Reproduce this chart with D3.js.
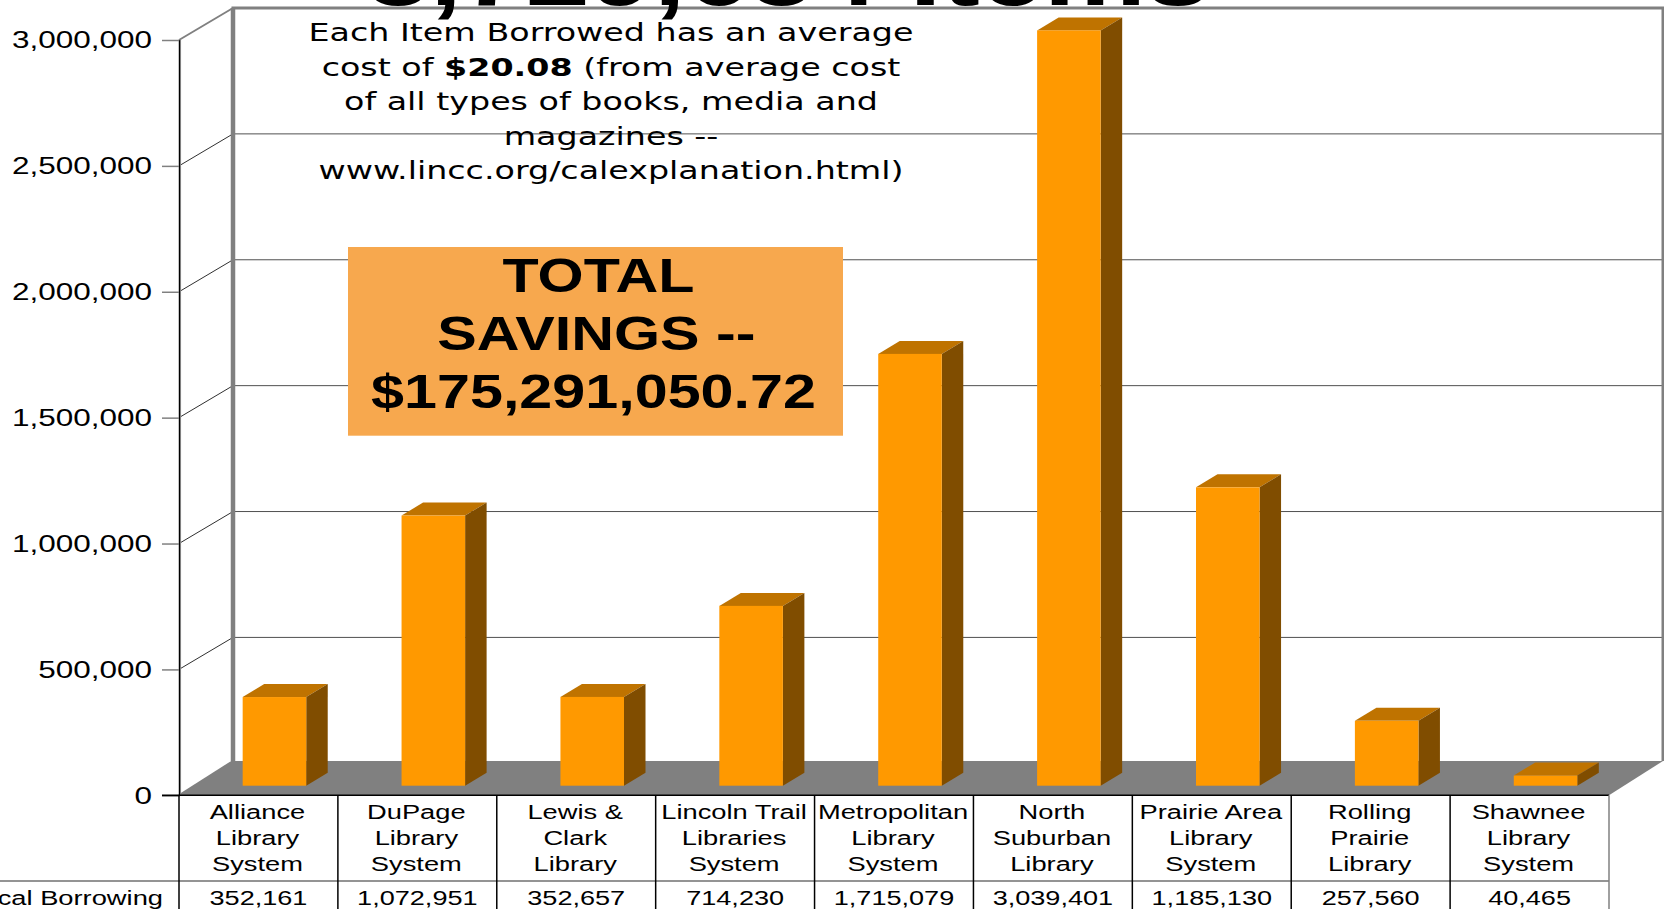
<!DOCTYPE html>
<html>
<head>
<meta charset="utf-8">
<script src="https://cdn.jsdelivr.net/npm/d3@7"></script>
<style>
  html, body { margin: 0; padding: 0; background: #fff; overflow: hidden; }
  text { font-family: "Liberation Sans", Arial, sans-serif; fill: #000; }
</style>
</head>
<body>
<div id="viz"></div>
<script>
// data
const categories = [
  'Alliance Library System',
  'DuPage Library System',
  'Lewis & Clark Library',
  'Lincoln Trail Libraries System',
  'Metropolitan Library System',
  'North Suburban Library',
  'Prairie Area Library System',
  'Rolling Prairie Library',
  'Shawnee Library System'
];
const categoryLines = [
  ['Alliance', 'Library', 'System'],
  ['DuPage', 'Library', 'System'],
  ['Lewis &', 'Clark', 'Library'],
  ['Lincoln Trail', 'Libraries', 'System'],
  ['Metropolitan', 'Library', 'System'],
  ['North', 'Suburban', 'Library'],
  ['Prairie Area', 'Library', 'System'],
  ['Rolling', 'Prairie', 'Library'],
  ['Shawnee', 'Library', 'System']
];
const borrowing = [352161, 1072951, 352657, 714230, 1715079, 3039401, 1185130, 257560, 40465];
const tickValues = [0, 500000, 1000000, 1500000, 2000000, 2500000, 3000000];
const rowLabel = 'Local Borrowing';
const titleText = '8,729,634 Items';
const noteLines = [
  [['Each Item Borrowed has an average', false]],
  [['cost of ', false], ['$20.08', true], [' (from average cost', false]],
  [['of all types of books, media and', false]],
  [['magazines --', false]],
  [['www.lincc.org/calexplanation.html)', false]]
];
const totalLines = ['TOTAL', 'SAVINGS --', '$175,291,050.72'];

// layout
const left = 179, right = 1609, y0 = 795.3, y1 = 40;
const depthX = 54, depthY = -32;
const floorBack = 761;
const stretch = 1.3;

const svg = d3.select('#viz').append('svg')
  .attr('width', 1664).attr('height', 909)
  .style('display', 'block');

const x = d3.scaleBand().domain(categories).range([left, right])
  .paddingInner(0.6).paddingOuter(0.3);
const y = d3.scaleLinear().domain([0, 3000000]).range([y0, y1]).clamp(true);
const step = x.step();

// text that is wider than the font, the original was squeezed that way
function wideText(g, str, px, py, size, sx, anchor, family, weight) {
  return g.append('text')
    .attr('transform', `translate(${px},${py}) scale(${sx},1)`)
    .attr('text-anchor', anchor || 'middle')
    .style('font-family', family || null)
    .style('font-weight', weight || null)
    .style('font-size', size + 'px')
    .text(str);
}

// walls
const walls = svg.append('g');
walls.selectAll('line.grid').data(tickValues.slice(1)).enter().append('line')
  .attr('x1', left + depthX).attr('x2', right + depthX)
  .attr('y1', d => y(d) + depthY).attr('y2', d => y(d) + depthY)
  .attr('stroke', '#505050').attr('stroke-width', 1);
walls.selectAll('line.diag').data(tickValues.slice(1, -1)).enter().append('line')
  .attr('x1', left).attr('x2', left + depthX)
  .attr('y1', d => y(d)).attr('y2', d => y(d) + depthY)
  .attr('stroke', '#303030').attr('stroke-width', 1);

// floor
walls.append('polygon')
  .attr('points', [[left, y0], [left + depthX, floorBack], [right + depthX, floorBack], [right, y0]].join(' '))
  .attr('fill', '#808080');

// back wall frame
walls.append('path')
  .attr('d', `M${left + depthX},${floorBack}V${y1 + depthY}H${right + depthX}V${floorBack}`)
  .attr('fill', 'none').attr('stroke', '#808080').attr('stroke-width', 3);
walls.append('line')
  .attr('x1', left + depthX).attr('x2', left + depthX)
  .attr('y1', y1 + depthY).attr('y2', floorBack)
  .attr('stroke', '#808080').attr('stroke-width', 4.5);
walls.append('line')
  .attr('x1', left).attr('y1', y1).attr('x2', left + depthX).attr('y2', y1 + depthY)
  .attr('stroke', '#808080').attr('stroke-width', 2);
walls.append('line')
  .attr('x1', left).attr('y1', y0).attr('x2', left + depthX).attr('y2', floorBack)
  .attr('stroke', '#808080').attr('stroke-width', 2);

// title, cut off by the top of the page
wideText(svg.append('g'), titleText, 366, 5, 92, 1.25, 'start', null, 'bold');

// bars
const barDx = 16, barDy = -9.6, sideDx = 21.5, sideDy = -13;
const bars = svg.append('g').selectAll('g').data(categories).enter().append('g');
const bx = d => x(d) + barDx;
const bw = x.bandwidth();
const topY = (d, i) => y(borrowing[i]) + barDy;
const baseY = y0 + barDy;

bars.append('polygon').attr('fill', '#BF7300').attr('points', (d, i) => [
  [bx(d), topY(d, i)], [bx(d) + sideDx, topY(d, i) + sideDy],
  [bx(d) + bw + sideDx, topY(d, i) + sideDy], [bx(d) + bw, topY(d, i)]
].join(' '));
bars.append('polygon').attr('fill', '#804D00').attr('points', (d, i) => [
  [bx(d) + bw, topY(d, i)], [bx(d) + bw + sideDx, topY(d, i) + sideDy],
  [bx(d) + bw + sideDx, baseY + sideDy], [bx(d) + bw, baseY]
].join(' '));
bars.append('rect').attr('fill', '#FF9900')
  .attr('x', bx).attr('y', topY)
  .attr('width', bw).attr('height', (d, i) => baseY - topY(d, i));

// y axis
svg.append('line').attr('x1', left + 0.8).attr('x2', left + 0.8).attr('y1', y1).attr('y2', y0)
  .attr('stroke', '#808080').attr('stroke-width', 2.5);
const axis = svg.append('g').attr('transform', `translate(${left},0)`)
  .call(d3.axisLeft(y).tickValues(tickValues).tickFormat(d3.format(',')).tickSize(17).tickPadding(10));
axis.select('.domain').attr('stroke', '#000').attr('stroke-width', 1);
axis.selectAll('.tick line').attr('stroke', '#808080').attr('stroke-width', 1.5);
axis.selectAll('.tick text')
  .attr('x', -27 / 1.285).attr('dy', null).attr('y', 7.7)
  .attr('transform', 'scale(1.285,1)')
  .style('font-family', '"Liberation Sans"')
  .style('font-size', '24.5px');

// data table
const table = svg.append('g');
const tableBottom = 909, rowY = 881;
table.append('line').attr('x1', 162).attr('x2', right).attr('y1', y0).attr('y2', y0)
  .attr('stroke', '#000').attr('stroke-width', 1.5);
table.append('line').attr('x1', 0).attr('x2', right).attr('y1', rowY).attr('y2', rowY)
  .attr('stroke', '#707070').attr('stroke-width', 1.5);
table.selectAll('line.col').data(d3.range(categories.length + 1)).enter().append('line')
  .attr('x1', i => left + i * step).attr('x2', i => left + i * step)
  .attr('y1', y0).attr('y2', tableBottom)
  .attr('stroke', i => i === categories.length ? '#808080' : '#000')
  .attr('stroke-width', 1.5);

categories.forEach((c, i) => {
  const cx = x(c) + bw / 2;
  categoryLines[i].forEach((line, j) => {
    wideText(table, line, cx - 1, 818.8 + j * 26.3, 21, stretch);
  });
  wideText(table, d3.format(',')(borrowing[i]), cx, 905, 21, 1.29);
});
wideText(table, rowLabel, 163, 905, 21, stretch, 'end');

// note text
const note = svg.append('g');
noteLines.forEach((parts, i) => {
  const t = wideText(note, '', 611, 41.3 + i * 34.5, 24.5, 1.36, 'middle', '"DejaVu Sans"');
  parts.forEach(p => {
    t.append('tspan').style('font-weight', p[1] ? 'bold' : null).text(p[0]);
  });
});

// savings box
const box = svg.append('g');
box.append('rect').attr('x', 348).attr('y', 247).attr('width', 495).attr('height', 188.7).attr('fill', '#F7A84E');
const totalCenters = [598.5, 596.4, 593.5];
const totalBase = [292, 350, 408];
totalLines.forEach((line, i) => {
  wideText(box, line, totalCenters[i], totalBase[i], 48, 1.235, 'middle', null, 'bold');
});
</script>
</body>
</html>
